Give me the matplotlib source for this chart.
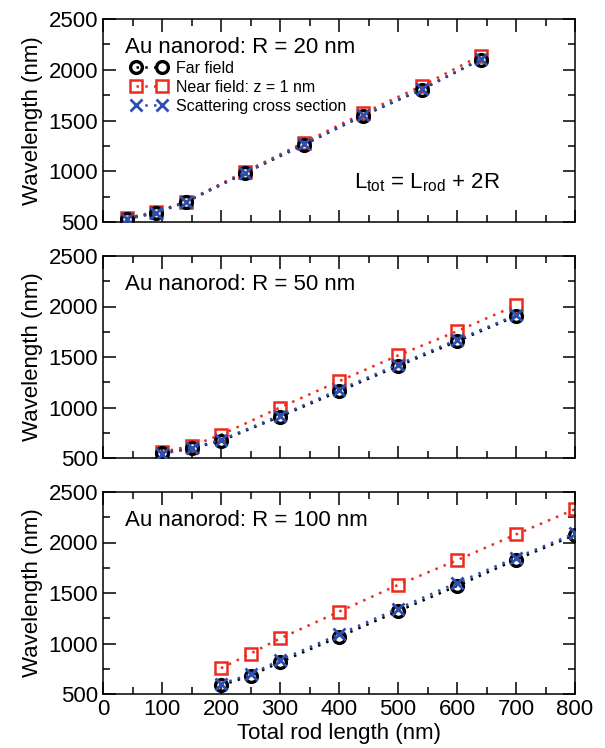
import numpy as np
import matplotlib.pyplot as plt
from matplotlib.ticker import MultipleLocator

plt.rcParams['font.family'] = ['Liberation Sans', 'DejaVu Sans']

# Total rod length (nm) for each radius
x_r20 = [40, 90, 140, 240, 340, 440, 540, 640]
x_r50 = [100, 150, 200, 300, 400, 500, 600, 700]
x_r100 = [200, 250, 300, 400, 500, 600, 700, 800]

# Resonance wavelengths (nm)
far_r20 = [530, 590, 695, 980, 1260, 1545, 1805, 2100]
near_r20 = [540, 600, 700, 995, 1280, 1570, 1840, 2140]
scat_r20 = [530, 590, 695, 985, 1265, 1550, 1810, 2105]

far_r50 = [545, 595, 670, 910, 1160, 1410, 1655, 1905]
near_r50 = [560, 620, 730, 1000, 1260, 1515, 1755, 2010]
scat_r50 = [540, 600, 680, 920, 1175, 1425, 1670, 1915]

far_r100 = [585, 680, 815, 1065, 1320, 1570, 1830, 2075]
near_r100 = [755, 900, 1050, 1315, 1580, 1825, 2080, 2330]
scat_r100 = [600, 695, 835, 1090, 1345, 1600, 1850, 2090]

radii = [20, 50, 100]

RED = '#ee2a1c'
BLUE = '#2f4fb0'
DOT = (0, (1, 2.5))

fig = plt.figure(figsize=(6.05, 7.48), dpi=100)
left, width = 103 / 605, 472 / 605
bottoms = [1 - 222 / 748, 1 - 458 / 748, 1 - 694 / 748]
heights = [203 / 748, 202 / 748, 202 / 748]

data = [
    (x_r20, far_r20, near_r20, scat_r20),
    (x_r50, far_r50, near_r50, scat_r50),
    (x_r100, far_r100, near_r100, scat_r100),
]

axes = []
for i, (xs, far, near, scat) in enumerate(data):
    ax = fig.add_axes([left, bottoms[i], width, heights[i]])
    axes.append(ax)
    ax.plot(xs, near, color=RED, ls=DOT, lw=1.8, marker='s', ms=9,
            mfc='none', mec=RED, mew=1.8, label='Near field: z = 1 nm', zorder=2)
    ax.plot(xs, far, color='black', ls=DOT, lw=1.8, marker='o', ms=8.5,
            mfc='none', mec='black', mew=2.4, label='Far field', zorder=3)
    ax.plot(xs, scat, color=BLUE, ls=DOT, lw=1.8, marker='x', ms=8,
            mec=BLUE, mew=2, label='Scattering cross section', zorder=4)

    ax.set_xlim(0, 800)
    ax.set_ylim(500, 2500)
    ax.xaxis.set_major_locator(MultipleLocator(100))
    ax.xaxis.set_minor_locator(MultipleLocator(50))
    ax.yaxis.set_major_locator(MultipleLocator(500))
    ax.yaxis.set_minor_locator(MultipleLocator(250))
    ax.tick_params(which='both', direction='in', top=True, right=True,
                   width=1.1, labelsize=16)
    ax.tick_params(which='major', length=9)
    ax.tick_params(which='minor', length=5)
    for sp in ax.spines.values():
        sp.set_linewidth(1.1)
    ax.set_ylabel('Wavelength (nm)', fontsize=16, labelpad=4)
    if i < 2:
        ax.tick_params(labelbottom=False)

    ax.text(38, 2220, f'Au nanorod: R = {radii[i]} nm', fontsize=16,
            ha='left', va='center')

axes[2].set_xlabel('Total rod length (nm)', fontsize=16, labelpad=2)

# legend only in the top panel
h, l = axes[0].get_legend_handles_labels()
order = [1, 0, 2]
axes[0].legend([h[k] for k in order], [l[k] for k in order],
               loc='upper left', bbox_to_anchor=(0.06, 0.795), frameon=False,
               fontsize=11.5, numpoints=2, handlelength=2.2,
               labelspacing=0.25, handletextpad=0.6, borderaxespad=0,
               borderpad=0)

axes[0].text(425, 890, r'L$_{\mathregular{tot}}$ = L$_{\mathregular{rod}}$ + 2R',
             fontsize=16, ha='left', va='center')

fig.savefig('out.png', dpi=100)
